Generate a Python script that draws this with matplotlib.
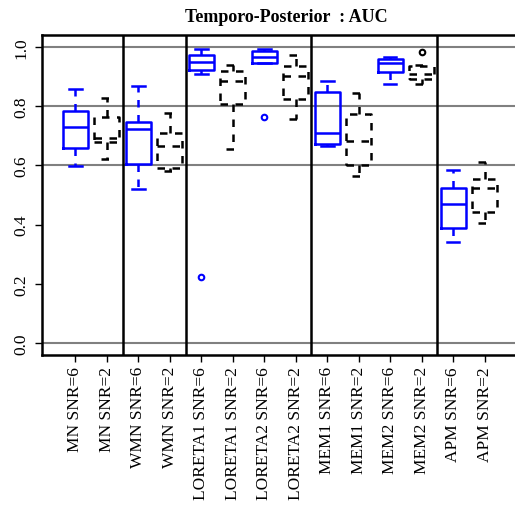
import matplotlib.pyplot as plt
import numpy as np

plt.rcParams['font.family'] = ['Liberation Serif', 'DejaVu Serif']

labels = ["MN SNR=6", "MN SNR=2", "WMN SNR=6", "WMN SNR=2",
          "LORETA1 SNR=6", "LORETA1 SNR=2", "LORETA2 SNR=6", "LORETA2 SNR=2",
          "MEM1 SNR=6", "MEM1 SNR=2", "MEM2 SNR=6", "MEM2 SNR=2",
          "APM SNR=6", "APM SNR=2"]

# five-number summaries per method / SNR
whislo = [0.597, 0.620, 0.519, 0.580, 0.910, 0.655, 0.945, 0.756, 0.664, 0.565, 0.874, 0.874, 0.342, 0.405]
q1     = [0.658, 0.679, 0.604, 0.591, 0.921, 0.808, 0.945, 0.824, 0.671, 0.601, 0.916, 0.893, 0.387, 0.443]
med    = [0.729, 0.694, 0.722, 0.666, 0.949, 0.885, 0.967, 0.902, 0.709, 0.683, 0.945, 0.910, 0.469, 0.522]
q3     = [0.785, 0.762, 0.745, 0.710, 0.973, 0.919, 0.986, 0.935, 0.849, 0.773, 0.958, 0.934, 0.522, 0.553]
whishi = [0.857, 0.829, 0.867, 0.777, 0.993, 0.940, 0.992, 0.972, 0.885, 0.844, 0.965, 0.940, 0.583, 0.610]
fliers = {4: [0.224], 6: [0.762], 11: [0.981]}

separators = [2.5, 4.5, 8.5, 12.5]
ref_lines = [0.0, 0.6, 0.8, 1.0]

fig = plt.figure(figsize=(5.15, 5.06), dpi=100)
ax = fig.add_axes([42 / 515, 150 / 506, 476 / 515, 320 / 506])

for y in ref_lines:
    ax.axhline(y, color='#808080', lw=1.5, zorder=0)
for x in separators:
    ax.axvline(x, color='black', lw=1.8, zorder=0)

for i in range(len(labels)):
    stats = [dict(whislo=whislo[i], q1=q1[i], med=med[i], q3=q3[i],
                  whishi=whishi[i], fliers=fliers.get(i, []))]
    if i % 2 == 0:
        col, ls = 'blue', '-'
    else:
        col, ls = 'black', (0, (3, 3))
    lp = dict(color=col, lw=1.8, linestyle=ls)
    ax.bxp(stats, positions=[i + 1], widths=0.8, manage_ticks=False,
           boxprops=lp, medianprops=lp, capprops=lp,
           whiskerprops=dict(color=col, lw=1.8, linestyle=(0, (3, 3))),
           flierprops=dict(marker='o', markersize=4, markerfacecolor='none',
                           markeredgecolor=col, markeredgewidth=1.5))

ax.set_xlim(-0.06, 15.06)
ax.set_ylim(-0.04, 1.04)
ax.set_xticks(np.arange(1, len(labels) + 1))
ax.set_xticklabels(labels, rotation=90, fontsize=12.5)
ax.set_yticks([0.0, 0.2, 0.4, 0.6, 0.8, 1.0])
ax.set_yticklabels(["0.0", "0.2", "0.4", "0.6", "0.8", "1.0"], rotation=90,
                   va='center', fontsize=12.5)
ax.tick_params(length=5, width=1)
ax.tick_params(axis='x', pad=3)
ax.tick_params(axis='y', pad=4)
for s in ax.spines.values():
    s.set_linewidth(1.8)

fig.text(286 / 515, 1 - 18 / 506, "Temporo-Posterior  : AUC", ha='center',
         va='center', fontsize=13, fontweight='bold')

fig.savefig('out.png', dpi=100)
